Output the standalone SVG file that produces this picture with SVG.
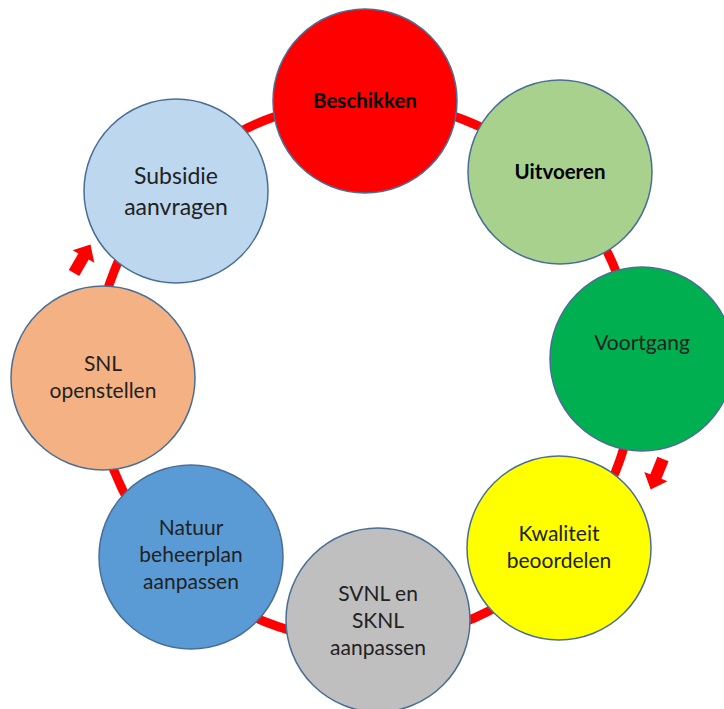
<svg xmlns="http://www.w3.org/2000/svg" width="724" height="709" viewBox="0 0 724 709">
<style>
.node{stroke:#4a6f96;stroke-width:1.5}
.t{font-family:Lato,"Liberation Sans",sans-serif;font-size:21px;fill:#222;text-anchor:middle}
.b{font-weight:bold;fill:#000;font-size:20.5px}
.ring{fill:none;stroke:#ff0000;stroke-width:9}
.arrow{fill:#ff0000}
</style>
<defs>
<path id="arr" d="M-6,0 L6,0 L6,-19 L12.5,-19 L0,-33 L-12.5,-19 L-6,-19 Z"/>
</defs>
<rect width="724" height="709" fill="#ffffff"/>
<g id="connectors">
<circle class="ring" cx="365" cy="371" r="270"/>
<use href="#arr" class="arrow" transform="translate(74,273) rotate(30)"/>
<use href="#arr" class="arrow" transform="translate(663,459) rotate(202)"/>
</g>
<g id="beschikken">
<circle class="node" cx="365" cy="101" r="92" fill="#ff0000"/>
<text class="t b" x="365" y="108">Beschikken</text>
</g>
<g id="uitvoeren">
<circle class="node" cx="560" cy="172" r="92" fill="#a9d18e"/>
<text class="t b" x="560" y="179">Uitvoeren</text>
</g>
<g id="voortgang">
<circle class="node" cx="642" cy="359" r="92" fill="#00b050"/>
<text class="t" x="642" y="350">Voortgang</text>
</g>
<g id="kwaliteit">
<circle class="node" cx="559" cy="548" r="92" fill="#ffff00"/>
<text class="t" x="559" y="541">Kwaliteit</text>
<text class="t" x="559" y="568">beoordelen</text>
</g>
<g id="svnl">
<circle class="node" cx="378" cy="620" r="92" fill="#bfbfbf"/>
<text class="t" x="378" y="601">SVNL en</text>
<text class="t" x="378" y="628">SKNL</text>
<text class="t" x="378" y="655">aanpassen</text>
</g>
<g id="natuur">
<circle class="node" cx="191" cy="557" r="92" fill="#5b9bd5"/>
<text class="t" x="191" y="535">Natuur</text>
<text class="t" x="191" y="562">beheerplan</text>
<text class="t" x="191" y="589">aanpassen</text>
</g>
<g id="snl">
<circle class="node" cx="103" cy="378" r="92" fill="#f4b183"/>
<text class="t" x="103" y="371">SNL</text>
<text class="t" x="103" y="398">openstellen</text>
</g>
<g id="subsidie">
<circle class="node" cx="176" cy="191" r="92" fill="#bdd7ee"/>
<text class="t" x="176" y="184" style="font-size:23px">Subsidie</text>
<text class="t" x="176" y="215" style="font-size:23px">aanvragen</text>
</g>
</svg>
